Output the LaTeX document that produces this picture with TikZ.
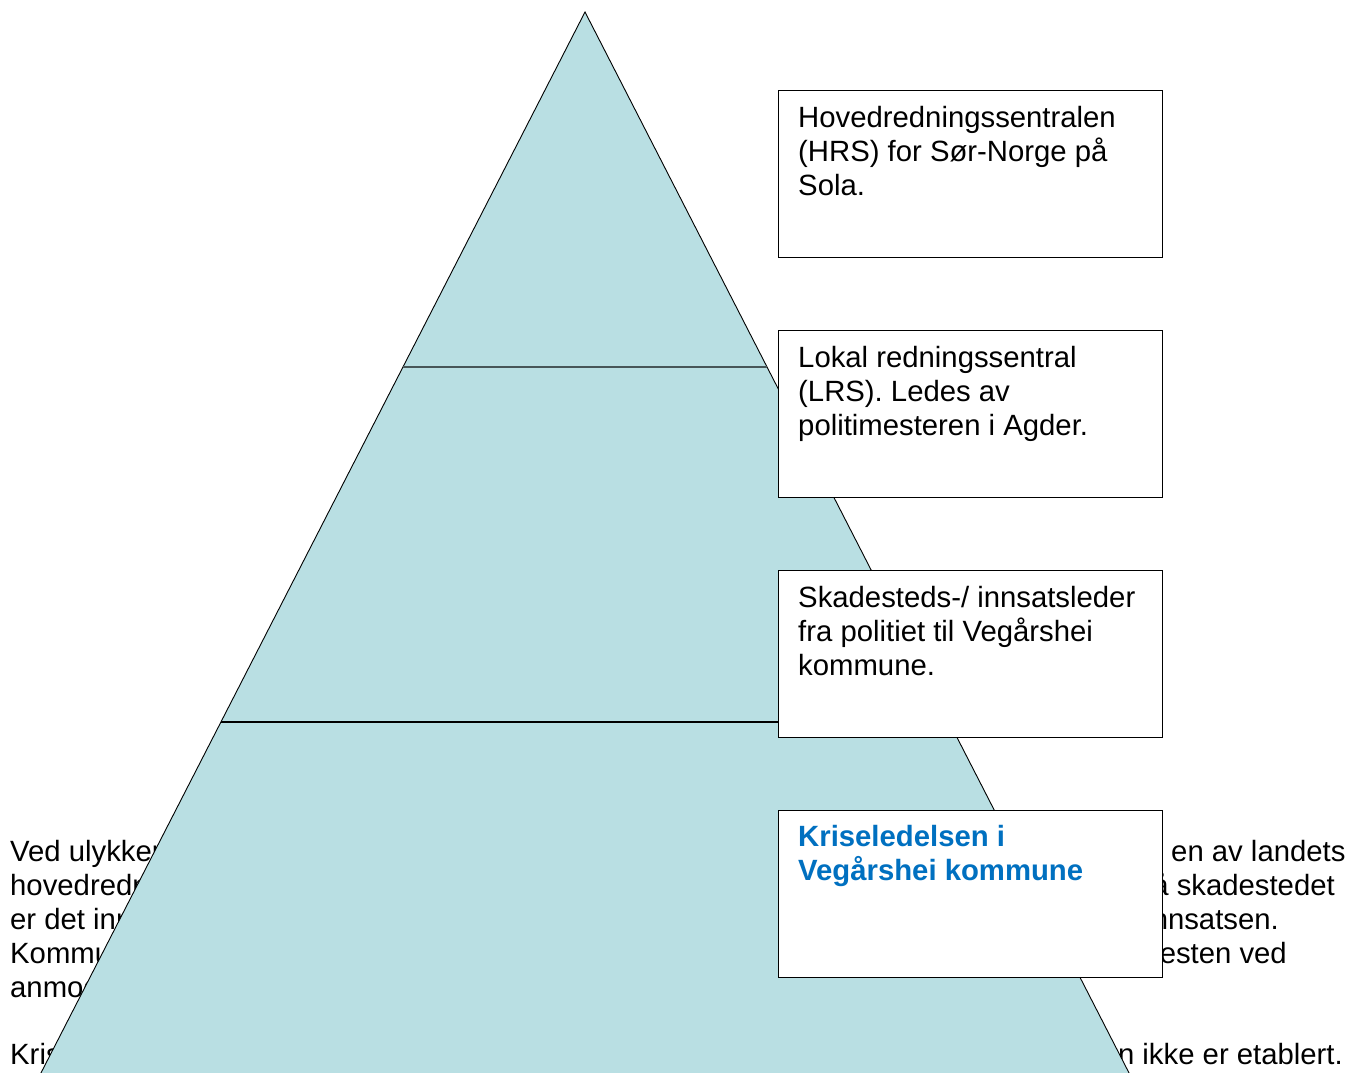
\documentclass[tikz,border=0pt]{standalone}
\usepackage{fontspec}
\setmainfont{Liberation Sans}
\usetikzlibrary{calc}
\definecolor{trifill}{HTML}{B9DFE3}
\definecolor{midline}{HTML}{475658}
\definecolor{kriseblue}{HTML}{0070C0}
\tikzset{
  txt/.style={inner sep=0pt, font=\fontsize{29.3}{34}\selectfont, text=black},
  lw/.style={txt, anchor=base west},
  le/.style={txt, anchor=base east},
  boxshape/.style={draw=black, line width=1.8pt, fill=white, minimum width=384pt,
    minimum height=167pt, anchor=north west, inner sep=0pt},
  bluebold/.style={txt, anchor=base west, text=kriseblue, font=\fontsize{29.3}{34}\selectfont\bfseries},
}
\begin{document}
\begin{tikzpicture}[x=1pt,y=-1pt]
\useasboundingbox (0,0) rectangle (1349,1072);
\clip (0,0) rectangle (1349,1072);
% background text (partly hidden)
\node[lw] (p1) at (10,861) {Ved ulykker};
\node[lw] (p2) at (10,895) {hovedredningssentraler};
\node[lw] (p3) at (10,929) {er det innsatsleder};
\node[lw] (p4) at (10,963) {Kommunen};
\node[lw] (p5) at (10,997) {anmodning.};
\node[lw] (p6) at (10,1064) {Kriseledelsen};
\node[lw] (q1) at (1171,861) {en av landets};
\node[le] (q2) at (1335,895) {på skadestedet};
\node[le] (q3) at (1279,929) {innsatsen.};
\node[le] (q4) at (1287,963) {esten ved};
\node[le] (q5) at (1343,1064) {en ikke er etablert.};
% pyramid
\coordinate (A) at (585,12);
\coordinate (BL) at (27.1,1100);
\coordinate (BR) at (1142.9,1100);
\fill[trifill] (A) -- (BL) -- (BR) -- cycle;
\draw[black, line width=0.9pt, line join=miter] (BL) -- (A) -- (BR);
\coordinate (L1) at ($(A)!0.3263!(BL)$);
\coordinate (R1) at ($(A)!0.3263!(BR)$);
\coordinate (L2) at ($(A)!0.6526!(BL)$);
\coordinate (R2) at ($(A)!0.6526!(BR)$);
\draw[midline, line width=2.7pt] (L1) -- (R1);
\draw[black, line width=1.8pt] (L2) -- (R2);
% boxes
\node[boxshape] (b1) at (777.5,89.5) {};
\node[boxshape] (b2) at (777.5,329.5) {};
\node[boxshape] (b3) at (777.5,569.5) {};
\node[boxshape] (b4) at (777.5,809.5) {};
\node[lw] (b1a) at (798,127) {Hovedredningssentralen};
\node[lw] (b1b) at (798,161.2) {(HRS) for Sør-Norge på};
\node[lw] (b1c) at (798,195.4) {Sola.};
\node[lw] (b2a) at (798,367.3) {Lokal redningssentral};
\node[lw] (b2b) at (798,401.5) {(LRS). Ledes av};
\node[lw] (b2c) at (798,435.7) {politimesteren i Agder.};
\node[lw] (b3a) at (798,607) {Skadesteds-/ innsatsleder};
\node[lw] (b3b) at (798,641.2) {fra politiet til Vegårshei};
\node[lw] (b3c) at (798,675.4) {kommune.};
\node[bluebold] (b4a) at (798,846) {Kriseledelsen i};
\node[bluebold] (b4b) at (798,880.5) {Vegårshei kommune};
\end{tikzpicture}
\end{document}
